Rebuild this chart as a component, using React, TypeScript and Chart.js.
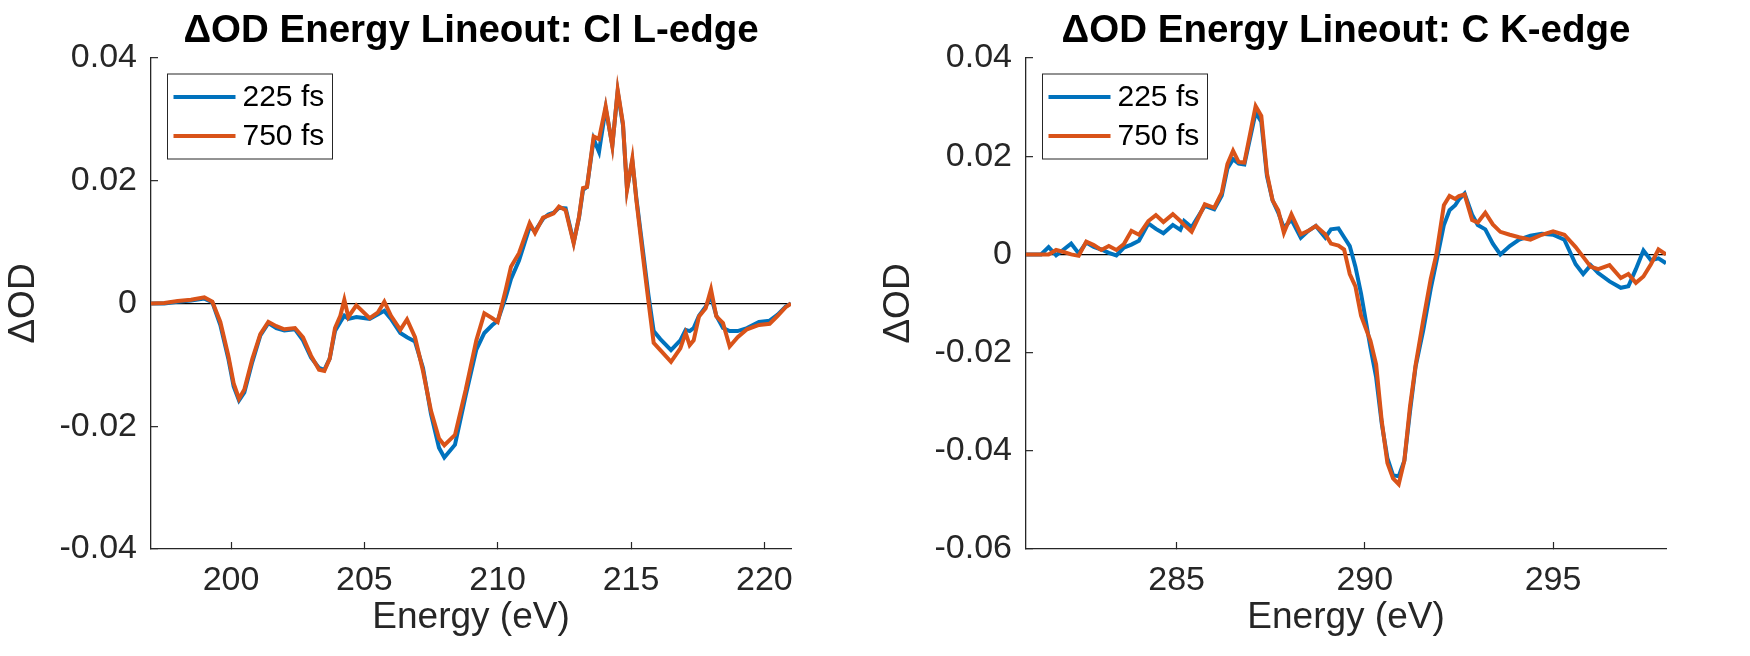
import React, { useEffect, useRef } from 'react';
import { Chart, registerables } from 'chart.js';

Chart.register(...registerables);

// Cl L-edge lineout (shared energy grid, eV)
const clEnergy = [
  197.0, 197.5, 198.0, 198.5, 199.0, 199.3, 199.6, 199.9, 200.1, 200.3,
  200.5, 200.8, 201.1, 201.4, 201.7, 202.0, 202.4, 202.7, 203.0, 203.3,
  203.5, 203.7, 203.9, 204.1, 204.25, 204.4, 204.7, 205.2, 205.5, 205.75,
  206.0, 206.35, 206.6, 206.9, 207.2, 207.5, 207.8, 208.0, 208.4, 208.8,
  209.2, 209.5, 209.8, 210.0, 210.3, 210.5, 210.8, 211.2, 211.4, 211.7,
  211.9, 212.1, 212.3, 212.55, 212.85, 213.05, 213.2, 213.35, 213.6, 213.8,
  214.05, 214.3, 214.5, 214.7, 214.85, 215.05, 215.2, 215.45, 215.65, 215.85,
  216.1, 216.5, 216.85, 217.05, 217.2, 217.35, 217.55, 217.8, 218.0, 218.2,
  218.45, 218.7, 219.0, 219.35, 219.8, 220.2, 220.5, 220.8, 221.0,
];
const cl225 = [
  0.0000, 0.0000, 0.0003, 0.0005, 0.0008, 0.0002, -0.0035, -0.0090, -0.0135, -0.0158,
  -0.0145, -0.0095, -0.0052, -0.0032, -0.0040, -0.0044, -0.0042, -0.0060, -0.0088, -0.0105,
  -0.0108, -0.0090, -0.0045, -0.0030, -0.0020, -0.0025, -0.0022, -0.0025, -0.0018, -0.0012,
  -0.0025, -0.0048, -0.0055, -0.0062, -0.0105, -0.0180, -0.0235, -0.0251, -0.0230, -0.0150,
  -0.0075, -0.0048, -0.0035, -0.0028, 0.0010, 0.0040, 0.0070, 0.0125, 0.0118, 0.0138,
  0.0145, 0.0148, 0.0156, 0.0155, 0.0100, 0.0140, 0.0185, 0.0190, 0.0268, 0.0247,
  0.0318, 0.0258, 0.0345, 0.0290, 0.0187, 0.0232, 0.0172, 0.0085, 0.0015, -0.0045,
  -0.0058, -0.0076, -0.0060, -0.0043, -0.0045, -0.0040, -0.0020, -0.0005, 0.0012, -0.0020,
  -0.0040, -0.0045, -0.0045, -0.0040, -0.0030, -0.0028, -0.0018, -0.0005, 0.0000,
];
const cl750 = [
  0.0000, 0.0001, 0.0004, 0.0006, 0.0010, 0.0003, -0.0030, -0.0085, -0.0130, -0.0155,
  -0.0140, -0.0090, -0.0050, -0.0030, -0.0037, -0.0042, -0.0040, -0.0055, -0.0085, -0.0108,
  -0.0110, -0.0090, -0.0040, -0.0020, 0.0006, -0.0022, -0.0003, -0.0024, -0.0015, 0.0003,
  -0.0020, -0.0043, -0.0026, -0.0055, -0.0110, -0.0175, -0.0220, -0.0231, -0.0214, -0.0141,
  -0.0060, -0.0016, -0.0024, -0.0030, 0.0022, 0.0060, 0.0082, 0.0131, 0.0115, 0.0140,
  0.0143, 0.0147, 0.0158, 0.0152, 0.0098, 0.0141, 0.0188, 0.0190, 0.0272, 0.0268,
  0.0321, 0.0256, 0.0348, 0.0293, 0.0185, 0.0236, 0.0169, 0.0076, 0.0005, -0.0064,
  -0.0076, -0.0095, -0.0073, -0.0048, -0.0068, -0.0060, -0.0021, -0.0008, 0.0023, -0.0021,
  -0.0032, -0.0070, -0.0055, -0.0042, -0.0035, -0.0033, -0.0020, -0.0006, 0.0000,
];
const clTicks = [200, 205, 210, 215, 220];

// C K-edge lineout
const cEnergy = [
  281.0, 281.4, 281.6, 281.8, 282.0, 282.2, 282.4, 282.6, 282.8, 283.0,
  283.2, 283.4, 283.6, 283.8, 284.0, 284.25, 284.45, 284.65, 284.9, 285.1,
  285.2, 285.4, 285.75, 286.0, 286.2, 286.35, 286.5, 286.65, 286.8, 287.1,
  287.25, 287.4, 287.55, 287.7, 287.85, 288.05, 288.3, 288.5, 288.7, 288.95,
  289.1, 289.3, 289.45, 289.6, 289.75, 289.9, 290.15, 290.3, 290.45, 290.6,
  290.75, 290.9, 291.05, 291.2, 291.35, 291.55, 291.75, 291.9, 292.1, 292.25,
  292.4, 292.5, 292.65, 292.85, 293.0, 293.2, 293.4, 293.6, 293.85, 294.1,
  294.4, 294.7, 295.0, 295.3, 295.6, 295.8, 296.0, 296.2, 296.5, 296.8,
  297.0, 297.2, 297.4, 297.6, 297.8, 298.0,
];
const c225 = [
  0.0000, 0.0000, 0.0015, -0.0002, 0.0010, 0.0022, 0.0002, 0.0024, 0.0015, 0.0010,
  0.0003, -0.0002, 0.0014, 0.0020, 0.0028, 0.0063, 0.0052, 0.0043, 0.0060, 0.0050,
  0.0068, 0.0055, 0.0099, 0.0092, 0.0120, 0.0175, 0.0194, 0.0185, 0.0183, 0.0289,
  0.0270, 0.0160, 0.0110, 0.0085, 0.0054, 0.0071, 0.0034, 0.0048, 0.0058, 0.0034,
  0.0051, 0.0053, 0.0035, 0.0017, -0.0025, -0.0080, -0.0190, -0.0250, -0.0345, -0.0415,
  -0.0450, -0.0452, -0.0420, -0.0320, -0.0228, -0.0155, -0.0070, -0.0015, 0.0060, 0.0090,
  0.0100, 0.0112, 0.0124, 0.0081, 0.0060, 0.0051, 0.0022, 0.0000, 0.0017, 0.0030,
  0.0038, 0.0042, 0.0040, 0.0030, -0.0020, -0.0040, -0.0022, -0.0038, -0.0055, -0.0068,
  -0.0065, -0.0030, 0.0008, -0.0012, -0.0008, -0.0018,
];
const c750 = [
  0.0000, 0.0000, 0.0000, 0.0009, 0.0005, 0.0000, -0.0003, 0.0026, 0.0019, 0.0009,
  0.0017, 0.0009, 0.0021, 0.0048, 0.0040, 0.0068, 0.0080, 0.0066, 0.0082, 0.0068,
  0.0060, 0.0046, 0.0102, 0.0095, 0.0126, 0.0184, 0.0211, 0.0188, 0.0187, 0.0302,
  0.0282, 0.0165, 0.0110, 0.0090, 0.0044, 0.0082, 0.0041, 0.0048, 0.0058, 0.0041,
  0.0022, 0.0018, 0.0010, -0.0040, -0.0065, -0.0125, -0.0176, -0.0224, -0.0340, -0.0425,
  -0.0456, -0.0468, -0.0420, -0.0310, -0.0225, -0.0135, -0.0050, 0.0000, 0.0100, 0.0119,
  0.0113, 0.0119, 0.0122, 0.0070, 0.0065, 0.0085, 0.0061, 0.0046, 0.0040, 0.0035,
  0.0030, 0.0040, 0.0047, 0.0040, 0.0015, -0.0005, -0.0025, -0.0030, -0.0022, -0.0048,
  -0.0040, -0.0058, -0.0045, -0.0020, 0.0010, 0.0000,
];
const cTicks = [285, 290, 295];

const seriesLabels = ['225 fs', '750 fs'];
const seriesColors = ['#0072BD', '#D95319'];

const FONT = '"Liberation Sans", Arial, Helvetica, sans-serif';
const AXIS = '#262626';

type PanelProps = {
  title: string;
  energy: number[];
  series: number[][];
  xMin: number;
  xMax: number;
  xTicks: number[];
  yMin: number;
  yMax: number;
};

// draws the title centred over the plot box and a MATLAB-style legend in the corner
const decorPlugin = (title: string) => ({
  id: 'panelDecor',
  afterDraw(chart: Chart) {
    const { ctx, chartArea } = chart;
    ctx.save();
    ctx.fillStyle = '#000';
    ctx.font = `bold 38.5px ${FONT}`;
    ctx.textAlign = 'center';
    ctx.textBaseline = 'middle';
    ctx.fillText(title, (chartArea.left + chartArea.right) / 2, 31);

    const bx = chartArea.left + 16.5;
    const by = chartArea.top + 16;
    ctx.fillStyle = '#fff';
    ctx.fillRect(bx, by, 165, 85);
    ctx.strokeStyle = AXIS;
    ctx.lineWidth = 1;
    ctx.strokeRect(bx, by, 165, 85);
    ctx.font = `30px ${FONT}`;
    ctx.textAlign = 'left';
    chart.data.datasets.forEach((ds, i) => {
      const y = by + 23 + i * 39;
      ctx.strokeStyle = ds.borderColor as string;
      ctx.lineWidth = 4;
      ctx.beginPath();
      ctx.moveTo(bx + 6, y);
      ctx.lineTo(bx + 68, y);
      ctx.stroke();
      ctx.fillStyle = '#000';
      ctx.fillText(String(ds.label), bx + 75, y + 1);
    });
    ctx.restore();
  },
});

const Panel: React.FC<PanelProps> = ({ title, energy, series, xMin, xMax, xTicks, yMin, yMax }) => {
  const canvasRef = useRef<HTMLCanvasElement>(null);

  useEffect(() => {
    if (!canvasRef.current) return;
    const chart = new Chart(canvasRef.current, {
      type: 'line',
      data: {
        datasets: series.map((vals, i) => ({
          label: seriesLabels[i],
          data: energy.map((e, j) => ({ x: e, y: vals[j] })),
          borderColor: seriesColors[i],
          backgroundColor: seriesColors[i],
          borderWidth: 4,
          pointRadius: 0,
          tension: 0,
          fill: false,
          // later series sits on top, as in MATLAB
          order: series.length - i,
        })),
      },
      options: {
        responsive: true,
        maintainAspectRatio: false,
        animation: false,
        layout: { padding: { top: 58, right: 84, left: 0, bottom: 0 } },
        plugins: {
          legend: { display: false },
          title: { display: false },
          tooltip: { enabled: false },
        },
        scales: {
          x: {
            type: 'linear',
            min: xMin,
            max: xMax,
            afterBuildTicks: (scale) => {
              scale.ticks = xTicks.map((v) => ({ value: v }));
            },
            afterFit: (scale) => {
              scale.height = 107;
            },
            ticks: {
              color: AXIS,
              font: { family: FONT, size: 34 },
              padding: 18,
              maxRotation: 0,
              autoSkip: false,
            },
            grid: {
              drawOnChartArea: false,
              drawTicks: true,
              tickLength: -7,
              tickColor: AXIS,
              tickWidth: 1.2,
            },
            border: { color: AXIS, width: 1.3 },
            title: {
              display: true,
              text: 'Energy (eV)',
              color: AXIS,
              font: { family: FONT, size: 37 },
              padding: { top: 0, bottom: 16 },
            },
          },
          y: {
            min: yMin,
            max: yMax,
            afterFit: (scale) => {
              scale.width = 151;
            },
            ticks: {
              stepSize: 0.02,
              color: AXIS,
              font: { family: FONT, size: 34 },
              padding: 21,
              callback: (v) => (Math.abs(Number(v)) < 1e-9 ? '0' : Number(v).toFixed(2)),
            },
            grid: {
              drawOnChartArea: true,
              color: (ctx) => (ctx.tick && Math.abs(ctx.tick.value) < 1e-9 ? '#000' : 'rgba(0,0,0,0)'),
              lineWidth: 1.3,
              drawTicks: true,
              tickLength: -7,
              tickColor: AXIS,
              tickWidth: 1.2,
            },
            border: { color: AXIS, width: 1.3 },
            title: {
              display: true,
              text: 'ΔOD',
              color: AXIS,
              font: { family: FONT, size: 37 },
              padding: { top: 2, bottom: 0 },
            },
          },
        },
      },
      plugins: [decorPlugin(title)],
    });
    return () => chart.destroy();
  }, [title, energy, series, xMin, xMax, xTicks, yMin, yMax]);

  return <canvas ref={canvasRef}></canvas>;
};

export default function App() {
  return (
    <div style={{ position: 'absolute', left: 0, top: 0, width: 1750, height: 656, background: '#fff' }}>
      <div style={{ position: 'absolute', left: 0, top: 0, width: 875, height: 656 }}>
        <Panel
          title="ΔOD Energy Lineout: Cl L-edge"
          energy={clEnergy}
          series={[cl225, cl750]}
          xMin={197}
          xMax={221}
          xTicks={clTicks}
          yMin={-0.04}
          yMax={0.04}
        />
      </div>
      <div style={{ position: 'absolute', left: 875, top: 0, width: 875, height: 656 }}>
        <Panel
          title="ΔOD Energy Lineout: C K-edge"
          energy={cEnergy}
          series={[c225, c750]}
          xMin={281}
          xMax={298}
          xTicks={cTicks}
          yMin={-0.06}
          yMax={0.04}
        />
      </div>
    </div>
  );
}
